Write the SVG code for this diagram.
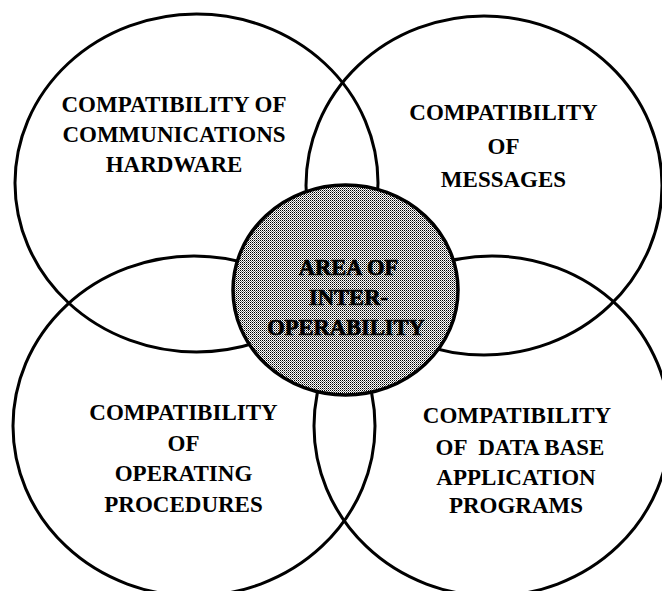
<svg xmlns="http://www.w3.org/2000/svg" width="662" height="591" viewBox="0 0 662 591">
<style>
.ring{fill:none;stroke:#000;stroke-width:3}
.core{stroke:#000;stroke-width:3.5}
.lbl{font-family:"Liberation Serif","Times New Roman",serif;font-weight:bold;font-size:23px;fill:#000;text-anchor:middle}
.clbl{font-family:"Liberation Serif","Times New Roman",serif;font-weight:bold;font-size:22.5px;fill:#000;stroke:#000;stroke-width:0.7;text-anchor:middle}
</style>
<defs>
<pattern id="dither" width="2" height="2" patternUnits="userSpaceOnUse">
<rect width="2" height="2" fill="#fff"/>
<rect width="1" height="1" fill="#000"/>
<rect x="1" y="1" width="1" height="1" fill="#000" opacity="0.55"/>
</pattern>
</defs>
<rect width="662" height="591" fill="#fff"/>
<g id="hardware">
<ellipse class="ring" cx="196.5" cy="183" rx="181.5" ry="169"/>
<text class="lbl" x="174" y="112">COMPATIBILITY OF</text>
<text class="lbl" x="174" y="142">COMMUNICATIONS</text>
<text class="lbl" x="174" y="172">HARDWARE</text>
</g>
<g id="messages">
<ellipse class="ring" cx="484" cy="185.5" rx="178" ry="169.5"/>
<text class="lbl" x="503.5" y="120">COMPATIBILITY</text>
<text class="lbl" x="503.5" y="153.5">OF</text>
<text class="lbl" x="503.5" y="187">MESSAGES</text>
</g>
<g id="procedures">
<ellipse class="ring" cx="194" cy="426" rx="181" ry="170"/>
<text class="lbl" x="183.5" y="420">COMPATIBILITY</text>
<text class="lbl" x="183.5" y="451">OF</text>
<text class="lbl" x="183.5" y="481">OPERATING</text>
<text class="lbl" x="183.5" y="512">PROCEDURES</text>
</g>
<g id="database">
<ellipse class="ring" cx="492" cy="426" rx="178" ry="170"/>
<text class="lbl" x="517" y="423">COMPATIBILITY</text>
<text class="lbl" x="520" y="455" xml:space="preserve">OF  DATA BASE</text>
<text class="lbl" x="516" y="485">APPLICATION</text>
<text class="lbl" x="516" y="513">PROGRAMS</text>
</g>
<g id="interoperability">
<ellipse class="core" fill="url(#dither)" cx="345.5" cy="290" rx="112.5" ry="105"/>
<text class="clbl" x="348.5" y="275">AREA OF</text>
<text class="clbl" x="348.5" y="305">INTER-</text>
<text class="clbl" x="346" y="335">OPERABILITY</text>
</g>
<g id="connectors"/>
</svg>
